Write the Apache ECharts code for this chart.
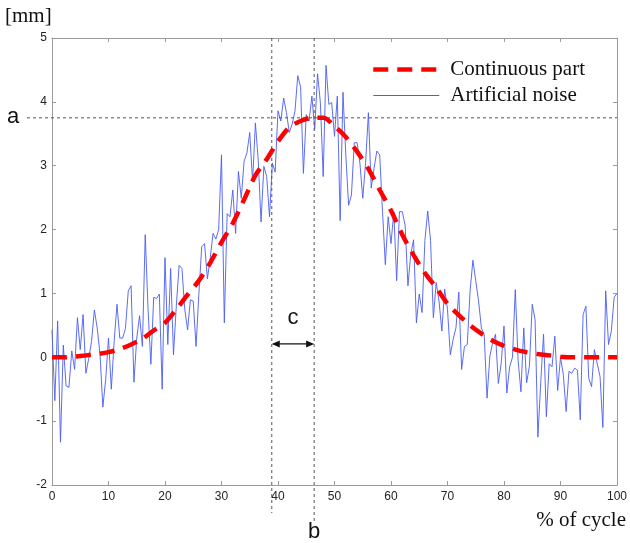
<!DOCTYPE html>
<html><head><meta charset="utf-8">
<script src="https://cdn.jsdelivr.net/npm/echarts@6/dist/echarts.min.js"></script>
<style>html,body{margin:0;padding:0;background:#fff}#c{width:630px;height:543px}</style>
</head><body><div id="c"></div>
<script>
// ---- data ----
const xTickValues = [0,10,20,30,40,50,60,70,80,90,100];
const yTickValues = [-2,-1,0,1,2,3,4,5];
const noiseStep = 0.5; // % of cycle between samples
const noiseValues = [
  0.43,-0.68,0.57,-1.33,0.19,-0.45,-0.47,0.10,-0.19,0.62,
  0.12,0.67,-0.25,-0.02,0.25,0.74,0.46,0.05,-0.78,-0.35,
  0.30,-0.50,0.25,0.83,0.30,0.30,0.45,1.04,1.12,-0.39,
  0.30,0.65,0.17,1.92,0.75,-0.11,0.94,0.92,0.99,-0.50,
  1.56,0.20,1.39,0.04,0.80,1.44,1.39,0.75,0.43,0.90,
  0.88,0.17,1.00,1.73,1.78,1.23,1.55,1.94,1.85,2.00,
  3.17,0.54,2.25,2.20,2.62,1.94,2.91,2.49,3.07,3.20,
  3.52,2.75,3.67,3.09,2.12,2.99,2.83,2.20,3.04,2.90,
  3.86,3.70,4.06,3.83,3.52,3.65,3.85,4.41,4.23,2.88,
  3.80,3.70,4.09,3.57,4.44,3.99,2.83,4.57,3.96,3.99,
  3.46,4.09,2.14,4.15,3.17,2.38,2.54,3.36,3.36,3.04,
  2.49,3.04,3.83,2.65,2.96,3.23,3.17,2.28,1.45,2.20,
  1.78,2.28,1.20,2.28,2.28,2.07,1.12,1.62,1.84,0.54,
  0.99,0.70,1.83,2.29,1.83,0.62,1.17,0.88,0.41,1.07,
  0.75,0.04,0.28,0.46,1.02,-0.19,0.17,0.20,1.04,1.52,
  1.20,0.88,0.46,0.35,-0.64,0.02,0.23,0.36,-0.41,-0.10,
  0.49,-0.56,-0.15,0.00,1.06,-0.05,-0.54,0.46,-0.40,-0.14,
  0.83,0.59,-1.25,-0.40,0.36,-0.93,-0.10,-0.15,0.33,-0.52,
  0.00,-0.27,-0.85,-0.22,-0.25,-0.17,-0.20,-0.98,0.67,0.80,
  -0.33,-0.46,0.12,-0.10,-0.30,-1.10,1.04,0.20,0.41,0.94,
  1.00
];
const curveX = [0,2,4,6,8,10,12,14,16,18,20,22,24,26,28,30,32,34,36,38,40,42,44,46,48,50,
  52,54,56,58,60,62,64,66,68,70,72,74,76,78,80,82,84,86,88,90,92,94,96,98,100];
const curveValues = [0,0,0.01,0.03,0.05,0.08,0.13,0.2,0.29,0.42,0.54,0.75,0.98,1.2,1.48,1.8,2.1,2.47,2.85,3.1,3.38,3.6,3.7,3.75,3.75,3.62,
  3.45,3.22,2.95,2.62,2.3,1.92,1.6,1.32,1.09,0.84,0.66,0.5,0.37,0.26,0.18,0.12,0.08,0.05,0.03,0.01,0,0,0,0,0];
const seriesNames = ['Continuous part','Artificial noise'];
const levelA = 3.75;   // "a"
const posB = 46.4;     // "b"
const posC = 38.9;     // "c" start
const arrowLevel = 0.21;

// ---- chart ----
const chart = echarts.init(document.getElementById('c'), null, {renderer:'canvas'});
const noiseData = noiseValues.map((v,i)=>[i*noiseStep, v]);
const curveData = curveX.map((x,i)=>[x, curveValues[i]]);
const axisGrey = '#9a9a9a';
const labelStyle = {color:'#222', fontSize:12, fontFamily:'Liberation Sans, Arial, sans-serif'};
function xAx(pos, show){
  return {type:'value', min:0, max:100, interval:10, position:pos,
    axisLine:{show:true, onZero:false, lineStyle:{color:axisGrey, width:1}},
    axisTick:{show:true, inside:true, length:4, lineStyle:{color:axisGrey}},
    axisLabel:Object.assign({show:show, margin:6, formatter:v=>xTickValues.includes(v)?String(v):''}, labelStyle),
    splitLine:{show:false}};
}
function yAx(pos, show){
  return {type:'value', min:-2, max:5, interval:1, position:pos,
    axisLine:{show:true, onZero:false, lineStyle:{color:axisGrey, width:1}},
    axisTick:{show:true, inside:true, length:4, lineStyle:{color:axisGrey}},
    axisLabel:Object.assign({show:show, margin:5, formatter:v=>yTickValues.includes(v)?String(v):''}, labelStyle),
    splitLine:{show:false}};
}
const noiseColor = '#4a5cf4';
chart.setOption({
  animation:false,
  backgroundColor:'#fff',
  grid:{left:52, right:9, top:38, bottom:58, containLabel:false},
  xAxis:[xAx('bottom', true), xAx('top', false)],
  yAxis:[yAx('left', true), yAx('right', false)],
  legend:{
    orient:'vertical', left:366, top:54,
    itemWidth:66, itemHeight:14, itemGap:5,
    itemStyle:{color:'transparent', borderWidth:0, opacity:0},
    data:[
      {name:seriesNames[0], lineStyle:{color:'#ff0000', width:4.5, type:[15,9], opacity:1}},
      {name:seriesNames[1], lineStyle:{color:noiseColor, width:1, opacity:1}}
    ],
    textStyle:{fontFamily:'Liberation Serif, Times New Roman, serif', fontSize:21, color:'#111', padding:[0,0,0,6]}
  },
  series:[
    {name:seriesNames[1], type:'line', data:noiseData, symbol:'none', showSymbol:false,
      lineStyle:{color:noiseColor, width:1, opacity:0.9}, itemStyle:{color:noiseColor}, z:2},
    {name:seriesNames[0], type:'line', data:curveData, symbol:'none', showSymbol:false, smooth:0.3,
      lineStyle:{color:'#ff0000', width:4.5, type:[15,9]}, itemStyle:{color:'#ff0000'}, z:3}
  ]
});

const P = (x,y)=>chart.convertToPixel({xAxisIndex:0, yAxisIndex:0},[x,y]);
const pa0 = P(0, levelA), pa1 = P(100, levelA);
const pbTop = P(posB, 5), pcTop = P(posC, 5);
const ar0 = P(posC, arrowLevel), ar1 = P(posB, arrowLevel);
const dash = {stroke:'#555', lineWidth:1, lineDash:[3,3]};
const sans = 'Liberation Sans, Arial, sans-serif';
const serif = 'Liberation Serif, Times New Roman, serif';
chart.setOption({graphic:[
  {type:'line', shape:{x1:27, y1:pa0[1], x2:pa1[0], y2:pa1[1]}, style:dash, z:10},
  {type:'line', shape:{x1:pcTop[0], y1:pcTop[1], x2:pcTop[0], y2:513}, style:dash, z:10},
  {type:'line', shape:{x1:pbTop[0], y1:pbTop[1], x2:pbTop[0], y2:524}, style:dash, z:10},
  {type:'line', shape:{x1:ar0[0]+2, y1:ar0[1], x2:ar1[0]-2, y2:ar1[1]}, style:{stroke:'#111', lineWidth:1.2}, z:11},
  {type:'polygon', shape:{points:[[ar0[0],ar0[1]],[ar0[0]+8,ar0[1]-3.5],[ar0[0]+8,ar0[1]+3.5]]}, style:{fill:'#111'}, z:11},
  {type:'polygon', shape:{points:[[ar1[0],ar1[1]],[ar1[0]-8,ar1[1]-3.5],[ar1[0]-8,ar1[1]+3.5]]}, style:{fill:'#111'}, z:11},
  {type:'text', x:13, y:117, style:{text:'a', font:'22px '+sans, fill:'#111', textAlign:'center', textVerticalAlign:'middle'}, z:12},
  {type:'text', x:(ar0[0]+ar1[0])/2, y:318, style:{text:'c', font:'22px '+sans, fill:'#111', textAlign:'center', textVerticalAlign:'middle'}, z:12},
  {type:'text', x:pbTop[0], y:532, style:{text:'b', font:'22px '+sans, fill:'#111', textAlign:'center', textVerticalAlign:'middle'}, z:12},
  {type:'text', x:5, y:16, style:{text:'[mm]', font:'21px '+serif, fill:'#111', textAlign:'left', textVerticalAlign:'middle'}, z:12},
  {type:'text', x:626, y:520, style:{text:'% of cycle', font:'21px '+serif, fill:'#111', textAlign:'right', textVerticalAlign:'middle'}, z:12}
]});
</script></body></html>
